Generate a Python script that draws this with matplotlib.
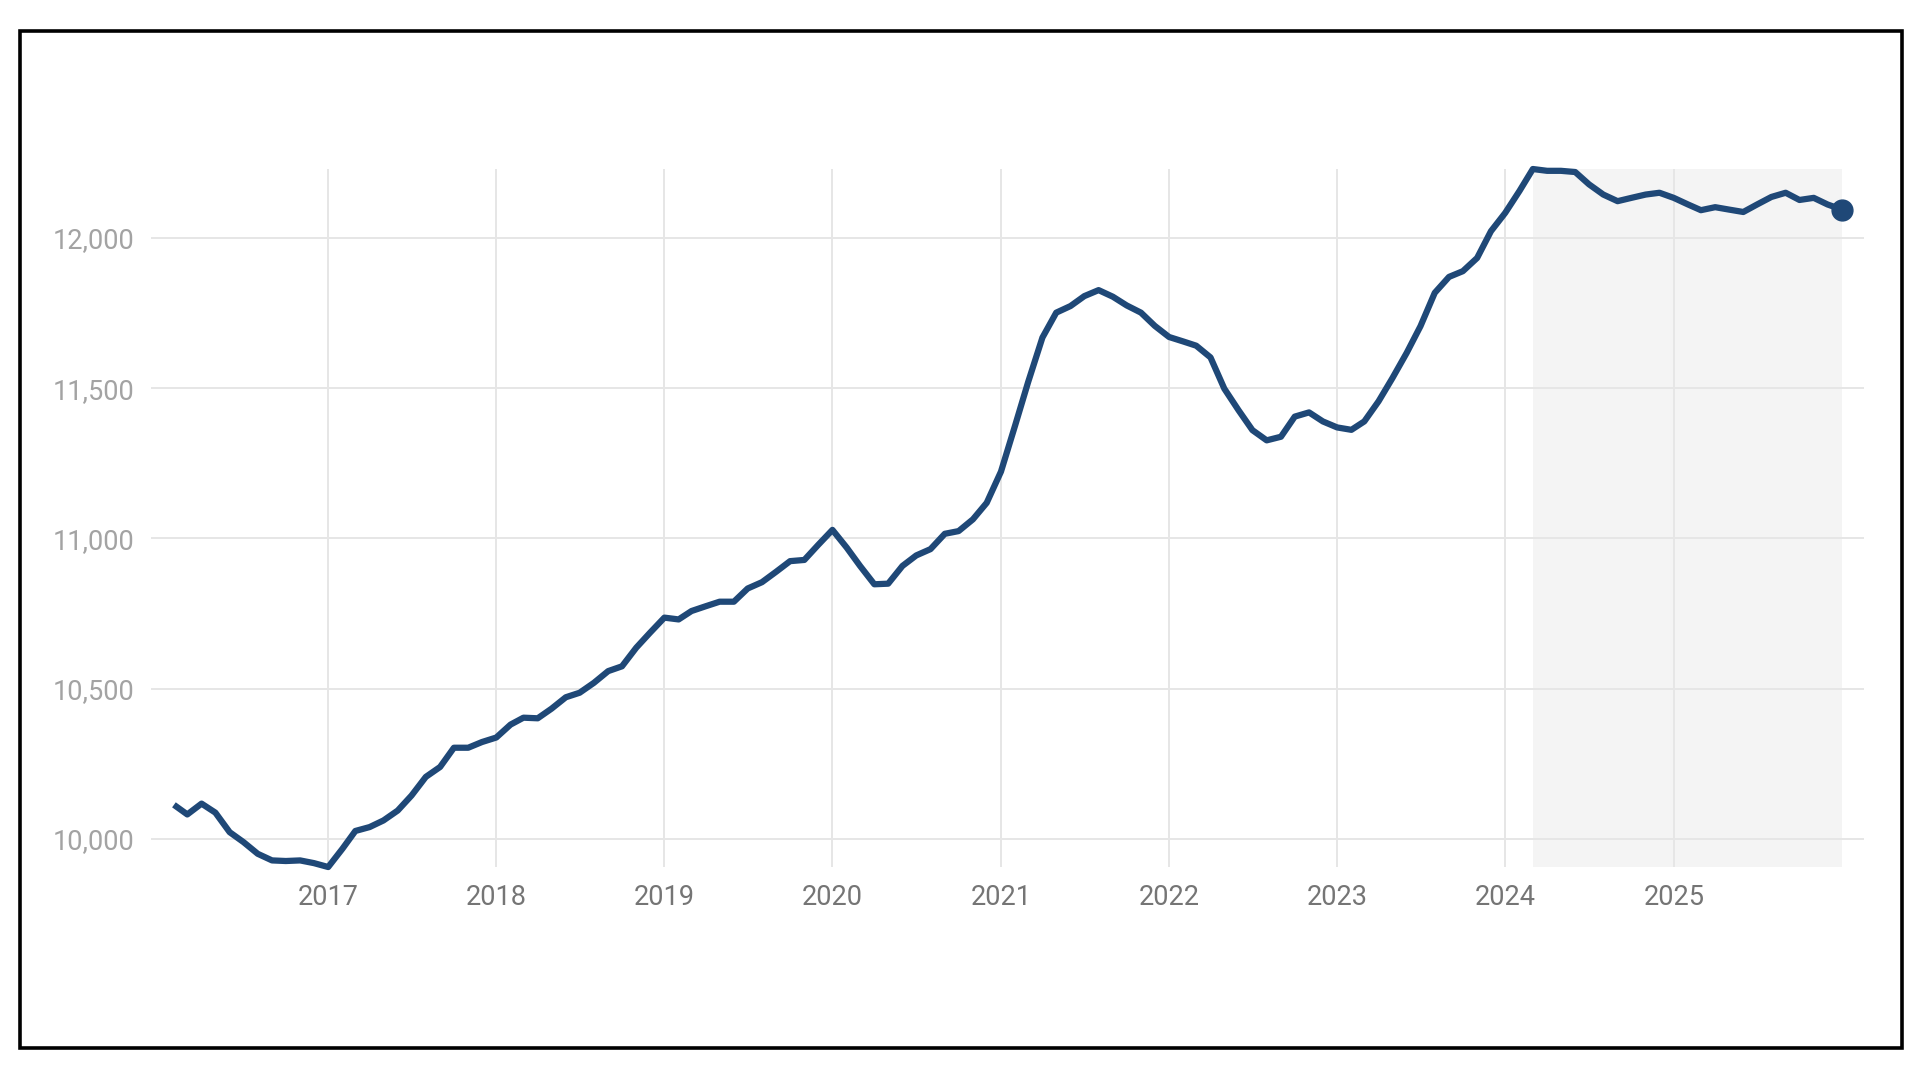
import matplotlib
matplotlib.use("Agg")
import matplotlib.pyplot as plt
import matplotlib.ticker as mticker
from matplotlib.patches import Rectangle
import pandas as pd

plt.rcParams['font.family'] = ['Roboto', 'DejaVu Sans']

# ---- data ----
start_month = "2016-02"
values = [
    # 2016 (Feb-Dec)
    10113, 10081, 10117, 10087, 10022, 9989, 9950, 9928, 9926, 9928, 9919,
    # 2017
    9906, 9967, 10026, 10039, 10061, 10094, 10144, 10206, 10239, 10303, 10303, 10322,
    # 2018
    10337, 10380, 10403, 10401, 10433, 10471, 10486, 10519, 10558, 10574, 10636, 10686,
    # 2019
    10736, 10730, 10758, 10774, 10789, 10789, 10833, 10854, 10889, 10924, 10928, 10978,
    # 2020
    11028, 10969, 10908, 10847, 10849, 10908, 10943, 10964, 11015, 11024, 11063, 11118,
    # 2021
    11222, 11377, 11520, 11668, 11751, 11773, 11806, 11826, 11804, 11775, 11751, 11707,
    # 2022
    11670, 11655, 11641, 11602, 11498, 11426, 11360, 11326, 11338, 11405, 11419, 11389,
    # 2023
    11369, 11361, 11389, 11456, 11533, 11617, 11706, 11817, 11870, 11889, 11933, 12022,
    # 2024
    12083, 12156, 12229, 12223, 12223, 12219, 12178, 12144, 12122, 12133, 12144, 12150,
    # 2025
    12133, 12111, 12092, 12102, 12094, 12086, 12111, 12136, 12150, 12126, 12133, 12111,
    # 2026 (Jan)
    12094,
]
shade_start = "2024-03"
year_ticks = [2017, 2018, 2019, 2020, 2021, 2022, 2023, 2024, 2025]
y_ticks = [10000, 10500, 11000, 11500, 12000]

dates = pd.date_range(start=start_month, periods=len(values), freq="MS")

# ---- styling ----
line_color = "#1f4877"
grid_color = "#e6e6e6"
shade_color = "#f4f4f4"

fig = plt.figure(figsize=(19.2, 10.8), dpi=100)
fig.patch.set_facecolor("white")
ax = fig.add_axes([0.0786, 0.1972, 0.8922, 0.6463])
ax.set_facecolor("white")

ax.axvspan(pd.Timestamp(shade_start), dates[-1], color=shade_color, zorder=0, lw=0)

ax.plot(dates, values, color=line_color, lw=4.5, solid_joinstyle="round",
        solid_capstyle="butt", zorder=3, clip_on=False)
ax.plot([dates[-1]], [values[-1]], "o", color=line_color, markersize=15,
        zorder=4, clip_on=False)

ax.set_ylim(min(values), max(values))
ax.set_xlim(dates[0] - pd.Timedelta(days=50), dates[-1] + pd.Timedelta(days=48))

ax.set_yticks(y_ticks)
ax.yaxis.set_major_formatter(mticker.FuncFormatter(lambda v, p: f"{v:,.0f}"))
ax.set_xticks([pd.Timestamp(f"{y}-01-01") for y in year_ticks])
ax.set_xticklabels([str(y) for y in year_ticks])

ax.grid(True, which="major", color=grid_color, lw=1.4, zorder=1)
ax.set_axisbelow(True)
for s in ax.spines.values():
    s.set_visible(False)
ax.tick_params(axis="both", length=0)
ax.tick_params(axis="x", pad=12, labelsize=19.5, labelcolor="#757575")
ax.tick_params(axis="y", pad=12, labelsize=19.5, labelcolor="#a3a3a3")

# outer frame
fig.patches.append(Rectangle((20 / 1920, 1 - 1048 / 1080), 1882 / 1920, 1017 / 1080,
                             transform=fig.transFigure, fill=False,
                             edgecolor="black", lw=2.6, zorder=10))

fig.savefig("out.png", dpi=100, facecolor="white")
